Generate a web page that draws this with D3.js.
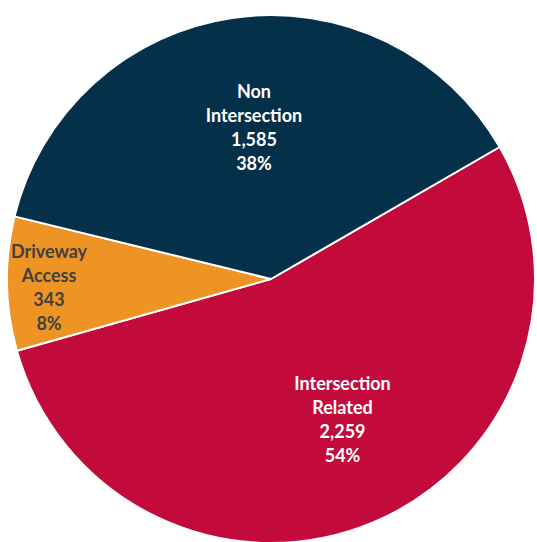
<!DOCTYPE html>
<html>
<head>
<meta charset="utf-8">
<script src="https://cdn.jsdelivr.net/npm/d3@7"></script>
<style>
  html, body { margin: 0; padding: 0; background: #fff; }
  svg { display: block; }
</style>
</head>
<body>
<svg id="chart" width="537" height="542"></svg>
<script>
// Crash counts by location type
const categories = ["Intersection Related", "Driveway Access", "Non Intersection"];
const labelLines = [["Intersection", "Related"], ["Driveway", "Access"], ["Non", "Intersection"]];
const counts = [2259, 343, 1585];
const percents = ["54%", "8%", "38%"];

const colors = ["#c30b3b", "#ee9424", "#05304a"];
const textColors = ["#ffffff", "#404040", "#ffffff"];

const W = 537, H = 542;
const cx = 271, cy = 279, radius = 264;

// Label anchor as (radius fraction, dx, dy) for each slice
const labelPlace = [[0.58, 12, 0], [0.86, 5, 5], [0.59, 5, 3]];

const svg = d3.select("#chart");
const g = svg.append("g").attr("transform", `translate(${cx},${cy})`);

const pie = d3.pie()
  .sort(null)
  .value(d => d)
  .startAngle(60 * Math.PI / 180)
  .endAngle(60 * Math.PI / 180 + 2 * Math.PI);

const arcs = pie(counts);
const arc = d3.arc().innerRadius(0).outerRadius(radius);

g.selectAll("path.slice")
  .data(arcs)
  .join("path")
  .attr("class", "slice")
  .attr("d", arc)
  .attr("fill", (d, i) => colors[i])
  .attr("stroke", "#ffffff")
  .attr("stroke-width", 2)
  .attr("stroke-linejoin", "round");

const fmt = d3.format(",");
const lineH = 24;

arcs.forEach((d, i) => {
  const [frac, dx, dy] = labelPlace[i];
  const mid = (d.startAngle + d.endAngle) / 2;
  const r = radius * frac;
  const x = Math.sin(mid) * r + dx;
  const y = -Math.cos(mid) * r + dy;
  const lines = [...labelLines[i], fmt(counts[i]), percents[i]];
  const t = g.append("text")
    .attr("text-anchor", "middle")
    .attr("font-family", "Lato, 'Open Sans', sans-serif")
    .attr("font-weight", "bold")
    .attr("font-size", 18)
    .attr("fill", textColors[i]);
  lines.forEach((s, k) => {
    t.append("tspan")
      .attr("x", x)
      .attr("y", y + (k - (lines.length - 1) / 2) * lineH)
      .attr("dy", "0.35em")
      .text(s);
  });
});
</script>
</body>
</html>
